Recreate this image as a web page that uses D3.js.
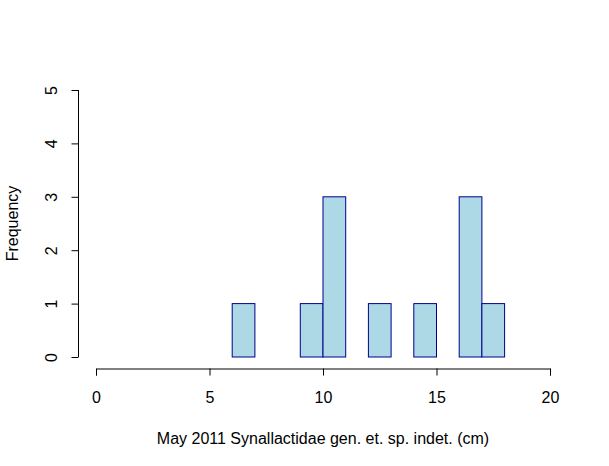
<!DOCTYPE html>
<html>
<head>
<meta charset="utf-8">
<script src="https://cdn.jsdelivr.net/npm/d3@7"></script>
<style>
body { margin: 0; background: #fff; }
text { font-family: "Liberation Sans", Arial, sans-serif; font-size: 16px; fill: #000; }
</style>
</head>
<body>
<div id="chart"></div>
<script>
// histogram bins (cm) and counts
var binStart = [6, 9, 10, 12, 14, 16, 17];
var binEnd   = [7, 10, 11, 13, 15, 17, 18];
var counts   = [1, 1, 3, 1, 1, 3, 1];
var xTicks = [0, 5, 10, 15, 20];
var yTicks = [0, 1, 2, 3, 4, 5];

var W = 609, H = 466;
var svg = d3.select("#chart").append("svg")
  .attr("width", W).attr("height", H);

var x = d3.scaleLinear().domain([0, 20]).range([96, 550]);
var y = d3.scaleLinear().domain([0, 5]).range([357, 90]);

// bars
svg.selectAll(".bar")
  .data(counts)
  .enter().append("rect")
  .attr("class", "bar")
  .attr("x", function(d, i) { return x(binStart[i]); })
  .attr("y", function(d) { return y(d); })
  .attr("width", function(d, i) { return x(binEnd[i]) - x(binStart[i]); })
  .attr("height", function(d) { return y(0) - y(d); })
  .attr("fill", "#ADD8E6")
  .attr("stroke", "#00008B")
  .attr("stroke-width", 1);

// x axis
var gx = svg.append("g")
  .attr("transform", "translate(0,368.5)")
  .call(d3.axisBottom(x).tickValues(xTicks).tickSize(7).tickFormat(d3.format("d")));
gx.select(".domain").attr("stroke", "#000");
gx.selectAll("line").attr("stroke", "#000");
gx.selectAll(".tick text").attr("y", 34.5).attr("dy", 0);

// y axis
var gy = svg.append("g")
  .attr("transform", "translate(78.5,0)")
  .call(d3.axisLeft(y).tickValues(yTicks).tickSize(7).tickFormat(d3.format("d")));
gy.select(".domain").attr("d", "M0," + y(0) + "V" + y(5));
gy.selectAll("line").attr("stroke", "#000");
gy.selectAll(".tick text")
  .attr("x", 0).attr("y", 0).attr("dy", 0)
  .attr("text-anchor", "middle")
  .attr("transform", "translate(-22,0) rotate(-90)");

// axis titles
svg.append("text")
  .attr("x", (x(0) + x(20)) / 2)
  .attr("y", 444)
  .attr("text-anchor", "middle")
  .text("May 2011 Synallactidae gen. et. sp. indet. (cm)");

svg.append("text")
  .attr("transform", "translate(18," + ((y(0) + y(5)) / 2) + ") rotate(-90)")
  .attr("text-anchor", "middle")
  .text("Frequency");
</script>
</body>
</html>
